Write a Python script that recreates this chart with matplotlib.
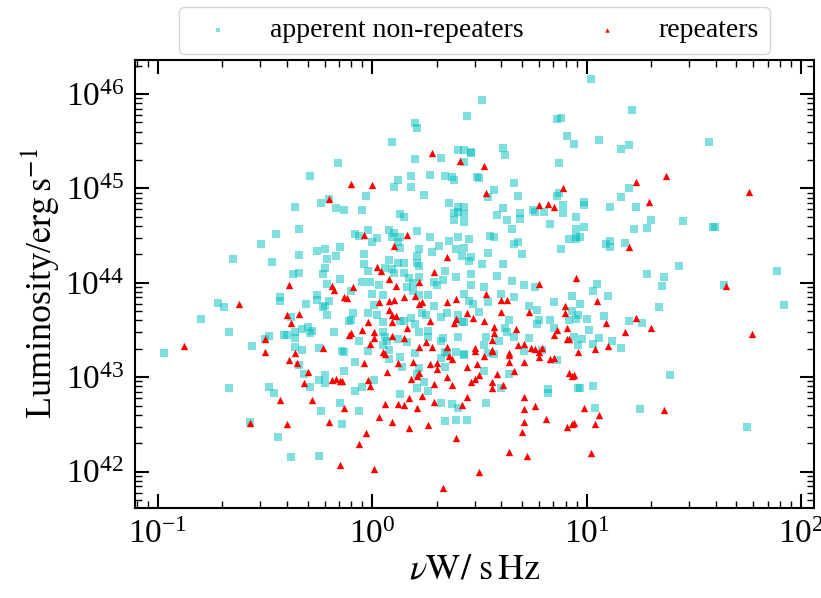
import numpy as np
import matplotlib
matplotlib.use("Agg")
import matplotlib.pyplot as plt

# log10 of width (s Hz) and log10 of luminosity (erg/s)
nr_logw = [-0.16, -0.29, -0.20, -0.24, -0.36, -0.17, -0.13, 0.51, 0.44, 0.20,
           0.21, 0.88, 0.86, 0.91, 0.94, 0.09, 0.61, 0.62, 0.40, 0.43,
           0.46, 0.46, 0.20, 0.32, 0.43, 0.87, 0.12, 0.18, 0.27, 0.34,
           0.37, 0.38, 0.49, 0.50, 0.10, 0.18, -0.03, 0.24, 0.57, 0.54,
           0.66, 0.68, 0.87, 0.86, 0.36, 0.40, 0.43, 0.61, 0.89, -0.05,
           0.75, 1.02, 1.21, 1.06, 1.16, 1.20, 1.57, 1.20, 1.16, 0.99,
           0.99, 1.11, 1.23, -0.34, -0.45, -0.52, -0.65, -0.47, -0.34, -0.26,
           -0.22, -0.15, -0.21, -0.17, -0.22, -0.23, -0.37, -0.34, -0.15, -0.21,
           -0.43, -0.43, -0.26, -0.26, -0.20, -0.72, -0.69, -0.31, -0.23, -0.22,
           -0.38, -0.21, -0.80, -0.67, -0.41, -0.40, -0.36, -0.33, -0.30, -0.36,
           -0.29, -0.28, -0.18, -0.11, -0.50, -0.48, -0.56, -0.97, -0.36, -0.33,
           -0.25, -0.13, 0.13, 0.15, 0.40, 0.38, 0.43, 0.38, 0.43, 0.58,
           0.63, 0.69, 0.69, 0.76, 0.80, 0.83, 0.89, 0.95, 0.95, 0.65,
           -0.08, -0.06, -0.02, 0.00, 0.02, 0.08, 0.10, 0.09, 0.13, 0.12,
           0.21, 0.13, 0.22, 0.21, 0.21, 0.22, 0.27, 0.31, 0.28, 0.36,
           0.40, 0.45, 0.39, 0.43, 0.42, 0.46, 0.45, 0.55, 0.57, 0.54,
           0.51, 0.61, 0.66, 0.68, 0.70, 0.88, 0.92, 0.95, -0.04, 0.08,
           -0.04, -0.02, 0.06, 0.09, 0.12, 0.15, 0.10, 0.15, 0.17, 0.19,
           0.22, 0.29, 0.30, 0.33, 0.34, 0.39, 0.46, 0.46, 0.52, 0.58,
           0.65, 0.71, 0.76, -0.05, -0.01, 0.03, 0.00, -0.10, 0.05, 0.16,
           0.19, 0.22, 0.26, 0.43, 0.45, 0.47, 0.54, 0.60, 0.66, 0.85,
           0.93, 0.97, 0.73, 0.77, 0.50, 0.40, 0.42, 0.35, 0.32, 0.29,
           0.23, 0.01, -0.02, -0.09, -0.10, 0.02, 0.05, 0.05, 0.06, 0.07,
           0.13, 0.15, 0.18, 0.20, 0.22, 0.25, 0.12, 0.16, 0.26, 0.26,
           0.33, 0.32, 0.40, 0.43, 0.53, 0.52, 0.59, 0.66, 0.63, 0.64,
           0.62, 0.73, 0.77, 0.78, 0.83, 0.85, 0.92, 0.94, 0.96, 0.96,
           -0.06, -0.14, -0.02, 0.05, 0.08, 0.34, 0.39, 0.43, 0.54, 0.57,
           0.99, 0.97, 0.95, 1.30, 1.28, 1.22, 1.45, 1.59, 1.60, 1.11,
           1.09, 1.11, 1.18, 1.43, 1.89, 1.28, 1.36, 1.35, 1.64, 1.05,
           1.03, 1.10, 1.34, 1.92, 0.93, 0.95, 1.00, 1.08, 1.20, 1.26,
           1.01, 0.98, 1.03, 1.06, 1.12, 1.16, -0.34, -0.32, -0.29, -0.25,
           -0.22, -0.22, -0.13, -0.67, -0.48, -0.46, -0.15, -0.24, -0.14, -0.57,
           -0.44, -0.38, -0.25, -0.08, 0.08, 0.13, 0.14, 0.20, 0.22, 0.01,
           -0.05, -0.08, -0.06, 0.21, 0.24, 0.21, 0.26, 0.13, 0.34, 0.32,
           0.35, 0.52, 0.43, 0.60, 0.64, 0.71, 0.86, 0.79, 0.96, 0.82,
           0.82, 0.32, 0.37, 0.40, 0.53, 0.34, 0.39, 0.44, 1.39, 0.97,
           1.03, 1.04, 1.25, 1.75]
nr_logl = [45.27, 45.13, 44.89, 44.85, 44.80, 44.79, 44.77, 45.94, 45.77, 45.69,
           45.64, 45.75, 45.73, 45.56, 45.47, 45.49, 45.43, 45.35, 45.41, 45.41,
           45.39, 45.37, 45.31, 45.32, 45.28, 45.27, 45.09, 45.13, 45.14, 45.13,
           45.12, 45.09, 45.12, 45.11, 45.01, 45.01, 44.92, 44.93, 44.98, 44.91,
           45.06, 44.92, 44.95, 44.92, 44.84, 44.80, 44.80, 44.79, 44.82, 44.77,
           44.77, 46.16, 45.83, 45.51, 45.42, 45.46, 45.49, 45.00, 44.91, 44.86,
           44.82, 44.80, 44.80, 44.57, 44.52, 44.41, 44.25, 44.22, 44.29, 44.34,
           44.36, 44.38, 44.25, 44.28, 44.16, 44.09, 44.09, 44.10, 44.04, 43.99,
           43.85, 43.81, 43.87, 43.82, 43.81, 43.79, 43.74, 43.77, 43.74, 43.75,
           43.64, 43.66, 43.62, 43.48, 43.45, 43.45, 43.48, 43.51, 43.53, 43.42,
           43.47, 43.49, 43.48, 43.59, 43.40, 43.44, 43.33, 43.26, 43.32, 43.29,
           43.31, 43.27, 44.73, 44.70, 44.75, 44.74, 44.73, 44.67, 44.64, 44.72,
           44.66, 44.74, 44.68, 44.75, 44.75, 44.62, 44.74, 44.70, 44.57, 44.57,
           44.52, 44.50, 44.56, 44.43, 44.47, 44.56, 44.53, 44.48, 44.49, 44.43,
           44.55, 44.37, 44.36, 44.28, 44.21, 44.18, 44.48, 44.39, 44.33, 44.44,
           44.48, 44.46, 44.36, 44.37, 44.28, 44.27, 44.23, 44.50, 44.48, 44.32,
           44.20, 44.20, 44.41, 44.43, 44.30, 44.36, 44.46, 44.48, 44.30, 44.24,
           44.20, 44.12, 44.16, 44.15, 44.21, 44.21, 44.10, 44.10, 44.05, 44.00,
           44.06, 44.01, 43.98, 44.03, 44.13, 44.06, 44.09, 43.98, 43.95, 44.07,
           44.02, 43.98, 43.95, 44.01, 44.01, 43.98, 43.88, 43.91, 43.87, 43.95,
           43.91, 43.87, 43.87, 43.88, 43.81, 43.77, 43.80, 43.88, 43.85, 43.80,
           43.86, 43.77, 43.75, 43.71, 43.69, 43.66, 43.58, 43.68, 43.64, 43.75,
           43.68, 43.76, 43.68, 43.68, 43.61, 43.66, 43.58, 43.48, 43.43, 43.38,
           43.60, 43.59, 43.63, 43.56, 43.48, 43.66, 43.40, 43.37, 43.49, 43.43,
           43.42, 43.38, 43.43, 43.58, 43.43, 43.34, 43.38, 43.43, 43.48, 43.61,
           43.52, 43.42, 43.56, 43.61, 43.61, 43.52, 43.61, 43.43, 43.66, 43.34,
           43.38, 43.28, 43.28, 43.34, 43.29, 43.27, 43.27, 43.25, 43.26, 43.25,
           44.59, 44.48, 44.46, 44.67, 44.58, 44.57, 44.65, 44.59, 44.59, 44.44,
           44.41, 44.38, 44.42, 44.18, 44.13, 44.09, 44.06, 43.97, 43.98, 43.99,
           43.91, 43.86, 43.74, 43.76, 43.70, 43.62, 43.62, 43.65, 43.59, 43.57,
           43.50, 43.40, 43.35, 43.41, 43.38, 43.31, 43.13, 43.03, 42.90, 42.97,
           43.02, 42.94, 43.07, 42.88, 42.90, 42.83, 42.73, 42.64, 42.50, 42.52,
           42.37, 42.15, 42.16, 43.16, 43.19, 43.21, 43.11, 43.26, 43.10, 42.97,
           42.90, 42.85, 42.64, 43.03, 42.95, 42.88, 42.85, 42.82, 43.11, 43.20,
           43.26, 43.07, 43.23, 42.89, 43.03, 43.28, 43.18, 43.29, 42.89, 42.87,
           42.83, 42.73, 42.72, 42.67, 42.73, 42.54, 42.55, 42.55, 43.02, 42.89,
           42.91, 42.67, 42.66, 42.47]

rp_logw = [-0.20, -0.10, 0.00, 0.28, 0.41, 0.52, 0.53, 0.89, 0.78, 0.82,
           0.85, 1.37, 1.23, 1.29, 1.76, -0.39, -0.19, -0.18, -0.13, -0.62,
           -0.40, -0.34, -0.38, -0.50, -0.88, -0.50, -0.36, -0.23, -0.11, -0.04,
           0.16, 0.10, 0.35, 0.02, 0.04, 0.08, 0.11, 0.22, 0.29, 0.78,
           0.95, -0.09, -0.12, 0.15, 0.20, 0.03, 0.08, 0.10, 0.22, 0.23,
           0.35, 0.39, 0.53, 0.60, 0.63, 0.90, 0.90, 0.73, 0.60, 0.44,
           0.47, 0.52, 0.08, 0.09, 0.11, -0.02, -0.05, -0.10, 0.01, 0.01,
           -0.01, 0.09, 0.09, 0.27, 0.16, 0.15, 0.22, 0.25, 0.28, 0.35,
           0.39, 0.38, 0.48, 0.56, 0.56, 0.57, 0.57, 0.67, 0.68, 0.71,
           0.74, 0.76, 0.79, 0.86, 0.85, 0.91, 0.92, 0.91, 0.96, 0.05,
           0.64, 0.78, 1.20, 1.65, 1.05, 1.23, 1.09, 1.30, 1.18, 1.77,
           1.04, 1.10, -0.39, -0.35, -0.30, -0.32, -0.28, -0.19, -0.17, -0.15,
           -0.43, -0.13, -0.20, -0.57, -0.40, -0.15, 0.06, -0.04, 0.12, 0.19,
           0.07, -0.14, -0.02, -0.01, 0.18, 0.22, 0.21, 0.27, 0.30, 0.30,
           0.29, 0.23, 0.17, 0.12, 0.35, 0.37, 0.36, 0.37, 0.44, 0.49,
           0.52, 0.48, 0.56, 0.46, 0.48, 0.50, 0.56, 0.56, 0.58, 0.61,
           0.66, 0.64, 0.64, 0.71, 0.78, 0.83, 0.85, 0.92, 0.93, 0.71,
           0.76, 0.71, 0.81, 0.71, 0.70, 0.91, 0.93, 0.44, 0.42, 0.29,
           0.21, 0.15, 0.06, 0.03, 0.09, 0.17, 0.26, -0.03, -0.06, 0.01,
           0.39, 0.50, 0.33, 0.64, 0.72, 0.94, 0.99, 1.06, 1.04, 0.94,
           1.36, 1.02]
rp_logl = [44.89, 45.05, 45.04, 45.37, 45.29, 45.24, 44.95, 45.00, 44.82, 44.83,
           44.80, 45.13, 45.07, 44.86, 44.96, 43.98, 43.97, 43.92, 43.85, 43.77,
           43.66, 43.67, 43.57, 43.40, 43.33, 43.27, 43.26, 43.31, 43.45, 44.51,
           44.51, 44.39, 44.27, 44.17, 44.12, 44.04, 43.97, 44.01, 44.11, 43.99,
           44.05, 43.95, 43.84, 43.85, 43.86, 43.80, 43.81, 43.82, 43.78, 43.80,
           43.80, 43.83, 43.88, 43.82, 43.82, 43.75, 43.68, 43.69, 43.69, 43.68,
           43.63, 43.59, 43.71, 43.66, 43.65, 43.58, 43.50, 43.47, 43.48, 43.42,
           43.35, 43.58, 43.44, 43.59, 43.52, 43.42, 43.32, 43.37, 43.32, 43.32,
           43.62, 43.57, 43.31, 43.29, 43.39, 43.47, 43.53, 43.51, 43.34, 43.35,
           43.31, 43.30, 43.31, 43.50, 43.45, 43.40, 43.40, 43.52, 43.27, 43.27,
           43.26, 43.27, 44.38, 43.97, 43.81, 43.63, 43.57, 43.52, 43.48, 43.46,
           43.30, 43.33, 43.18, 43.15, 43.06, 42.94, 42.76, 42.97, 42.98, 42.96,
           42.76, 42.67, 42.52, 42.51, 42.50, 42.07, 43.25, 43.15, 43.15, 43.16,
           43.05, 42.96, 42.97, 42.91, 42.98, 43.04, 43.01, 43.14, 43.15, 43.09,
           42.93, 42.80, 42.78, 42.72, 43.00, 42.92, 43.22, 43.19, 43.11, 43.14,
           43.22, 43.28, 43.28, 42.95, 42.98, 43.02, 42.95, 42.89, 43.03, 42.92,
           43.07, 43.16, 43.24, 43.16, 43.21, 43.19, 43.20, 43.04, 43.01, 42.79,
           42.69, 42.66, 42.56, 42.52, 42.42, 42.47, 42.50, 42.79, 42.71, 42.74,
           42.67, 42.70, 42.72, 42.58, 42.52, 42.46, 42.49, 42.41, 42.29, 42.03,
           42.36, 42.00, 41.83, 42.21, 42.16, 43.02, 42.67, 42.60, 42.50, 42.51,
           42.65, 42.20]

plt.rcParams['font.family'] = 'serif'
plt.rcParams['font.serif'] = ['Liberation Serif', 'DejaVu Serif']
plt.rcParams['mathtext.fontset'] = 'stix'

fig = plt.figure(figsize=(8.21, 5.98), dpi=100)
ax = fig.add_axes([135/821, 1 - 508/598, 679/821, 448/598])

ax.scatter(10**np.array(nr_logw), 10**np.array(nr_logl), s=26, marker='s',
           c='c', alpha=0.5, linewidths=0, label='apperent non-repeaters')
ax.scatter(10**np.array(rp_logw), 10**np.array(rp_logl), s=28, marker='^',
           c='r', linewidths=0, label='repeaters')

ax.set_xscale('log')
ax.set_yscale('log')
ax.set_xlim(10**-1.107, 10**2.061)
ax.set_ylim(10**41.614, 10**46.36)

ax.tick_params(which='both', direction='in', top=True, right=True, labelsize=24, pad=8)
ax.tick_params(which='major', length=10, width=1.5)
ax.tick_params(which='minor', length=5, width=1)
for s in ax.spines.values():
    s.set_linewidth(1.5)

ax.set_xlabel(r'$\nu\mathrm{W/\ s\,Hz}$', fontsize=26, labelpad=3)
ax.set_ylabel(r'Luminosity/$\mathrm{erg\,s^{-1}}$', fontsize=26, labelpad=2)

ax.legend(loc='lower center', bbox_to_anchor=(0.5, 1.0), ncol=2, fontsize=20,
          markerscale=0.6, handletextpad=0.87, columnspacing=2.0, borderaxespad=0.2)

fig.savefig('out.png', dpi=100)
